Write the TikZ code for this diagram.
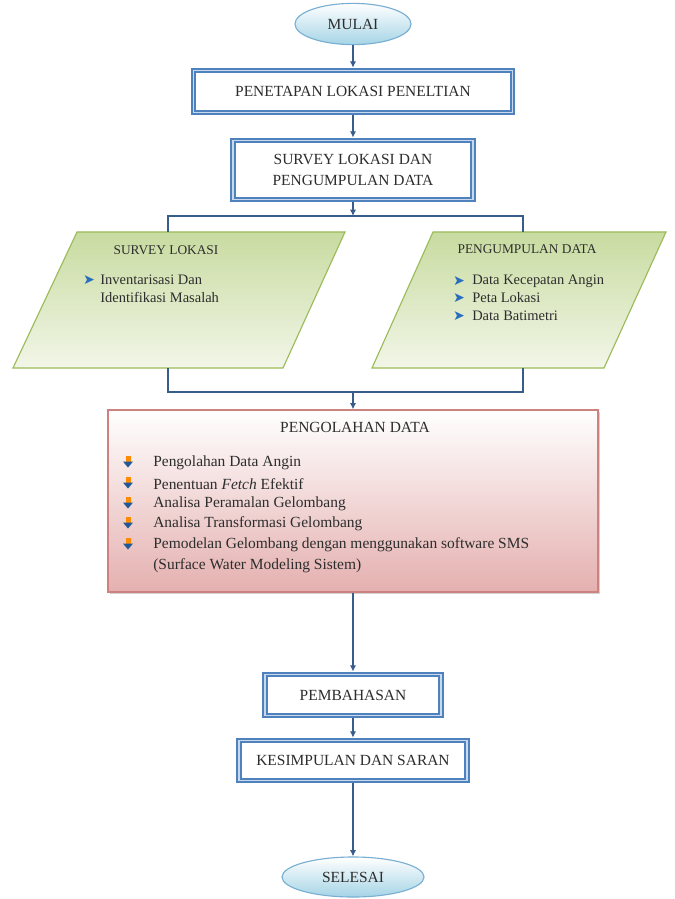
\documentclass[tikz,border=0pt]{standalone}
\usepackage{fontspec}
\setmainfont{Liberation Serif}
\newfontfamily\symfont{DejaVu Sans}
\usetikzlibrary{shapes.geometric,arrows.meta,shadows}

\definecolor{boxblue}{RGB}{79,129,189}
\definecolor{boxinner}{RGB}{200,216,238}
\definecolor{linkblue}{RGB}{56,93,138}
\definecolor{ovalfill}{RGB}{165,212,230}
\definecolor{ovalline}{RGB}{120,175,210}
\definecolor{leaf}{RGB}{155,187,89}
\definecolor{leaftop}{RGB}{200,219,160}
\definecolor{leafbot}{RGB}{242,246,232}
\definecolor{rose}{RGB}{228,176,175}
\definecolor{roseline}{RGB}{205,130,128}
\definecolor{txt}{RGB}{45,45,45}
\definecolor{tipblue}{RGB}{40,110,190}

\tikzset{
  terminal/.style={ellipse, draw=ovalline, line width=0.8pt, top color=white, bottom color=ovalfill,
    text=txt, font=\fontsize{11}{13}\selectfont},
  procbox/.style={rectangle, draw=boxblue, line width=1.4pt, double=boxinner, double distance=1.1pt,
    fill=white, outer sep=2pt, align=center, text=txt, font=\fontsize{11}{15.5}\selectfont},
  databox/.style={draw=leaf, line width=0.8pt, top color=leaftop, bottom color=leafbot},
  flow/.style={draw=linkblue, line width=1.2pt, -{Latex[length=4.5pt,width=4.5pt]}},
  link/.style={draw=linkblue, line width=1.2pt},
  item/.style={anchor=west, inner sep=0pt, text=txt, font=\fontsize{10.3}{12}\selectfont},
  olahitem/.style={anchor=west, inner sep=0pt, text=txt, font=\fontsize{11}{13}\selectfont},
  tip/.style={anchor=center, inner sep=0pt, text=tipblue, font=\symfont\fontsize{10}{11}\selectfont},
}

\begin{document}
\begin{tikzpicture}[x=0.025cm, y=-0.025cm]
	\path[fill=white, use as bounding box] (0,0) rectangle (675,899);
	%% start and first steps
	\node[terminal, minimum width=2.9cm, minimum height=1.03cm] (mulai) at (353,24) {MULAI};
	\node[procbox, minimum width=7.98cm, minimum height=1.05cm] (penetapan) at (353,91.5) {PENETAPAN LOKASI PENELTIAN};
	\node[procbox, minimum width=6.0cm, minimum height=1.48cm] (survey) at (353,170) {SURVEY LOKASI DAN\\PENGUMPULAN DATA};
	\draw[flow] (mulai) -- (penetapan);
	\draw[flow] (penetapan) -- (survey);
	%
	%% the two data blocks
	\path[databox] (77,232) -- (345,232) -- (283,368) -- (13,368) -- cycle;
	\path[databox] (433,232) -- (666,232) -- (604,368) -- (372,368) -- cycle;
	\coordinate (split) at (353,216);
	\coordinate (slTop) at (168,232);
	\coordinate (pdTop) at (523,232);
	\coordinate (slBot) at (168,368);
	\coordinate (pdBot) at (523,368);
	\coordinate (merge) at (353,392);
	\draw[flow] (survey) -- (split);
	\draw[link] (slTop) |- (split) -| (pdTop);
	%
	\node[text=txt, font=\fontsize{9.5}{11}\selectfont] (sltitle) at (166,250) {SURVEY LOKASI};
	\node[tip] (sltip1) at (89,280) {➤};
	\node[item] (slitem1) at (100,280) {Inventarisasi Dan};
	\node[item] (slitem2) at (100,297) {Identifikasi Masalah};
	%
	\node[text=txt, font=\fontsize{9.5}{11}\selectfont] (pdtitle) at (527,249) {PENGUMPULAN DATA};
	\node[tip] (pdtip1) at (459,281) {➤};
	\node[tip] (pdtip2) at (459,298) {➤};
	\node[tip] (pdtip3) at (459,316) {➤};
	\node[item] (pditem1) at (472,281) {Data Kecepatan Angin};
	\node[item] (pditem2) at (472,298) {Peta Lokasi};
	\node[item] (pditem3) at (472,316) {Data Batimetri};
	%
	%% processing
	\node[rectangle, draw=roseline, line width=0.9pt, top color=white, bottom color=rose,
		drop shadow={shadow xshift=1.5pt, shadow yshift=-1.5pt, opacity=0.35},
		minimum width=12.25cm, minimum height=4.55cm] (olah) at (353,501) {};
	\draw[link] (slBot) |- (merge) -| (pdBot);
	\draw[flow] (merge) -- (olah);
	\node[text=txt, font=\fontsize{11}{13}\selectfont] (olahtitle) at (355,427) {PENGOLAHAN DATA};
	\foreach \y/\t [count=\i] in {463/Pengolahan Data Angin,
			484/{Penentuan \textit{Fetch} Efektif},
			504/Analisa Peramalan Gelombang,
			524/Analisa Transformasi Gelombang,
			545/Pemodelan Gelombang dengan menggunakan software SMS}{
		\fill[orange!90!yellow] (125.5,\y-7) rectangle (130.5,\y-1.5);
		\fill[tipblue!80!black] (123,\y-1.5) -- (133,\y-1.5) -- (128,\y+4.5) -- cycle;
		\node[olahitem] (olahitem\i) at (153,\y) {\t};
	}
	\node[olahitem] (olahitem6) at (153,566) {(Surface Water Modeling Sistem)};
	%
	%% closing steps
	\node[procbox, minimum width=4.4cm, minimum height=1.03cm] (pembahasan) at (353,695) {PEMBAHASAN};
	\node[procbox, minimum width=5.7cm, minimum height=1.0cm] (kesimpulan) at (353,760.5) {KESIMPULAN DAN SARAN};
	\node[terminal, minimum width=3.55cm, minimum height=1.0cm] (selesai) at (353,877) {SELESAI};
	\draw[flow] (olah) -- (pembahasan);
	\draw[flow] (pembahasan) -- (kesimpulan);
	\draw[flow] (kesimpulan) -- (selesai);
\end{tikzpicture}
\end{document}
